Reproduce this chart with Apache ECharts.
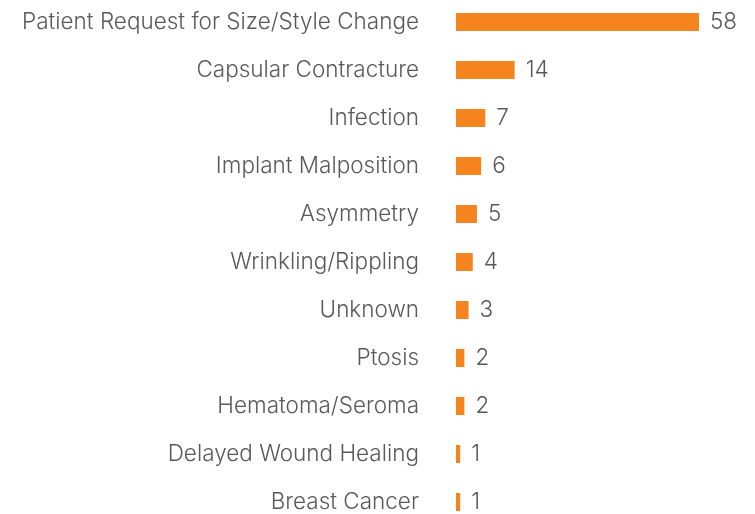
<!DOCTYPE html>
<html>
<head>
<meta charset="utf-8">
<script src="https://cdn.jsdelivr.net/npm/echarts@6/dist/echarts.min.js"></script>
<style>
    html, body { margin: 0; padding: 0; background: #fff; }
    #chart { width: 755px; height: 514px; }
</style>
</head>
<body>
<div id="chart"></div>
<script>
    // revision reasons, top to bottom
    const reasons = [
        'Patient Request for Size/Style Change',
        'Capsular Contracture',
        'Infection',
        'Implant Malposition',
        'Asymmetry',
        'Wrinkling/Rippling',
        'Unknown',
        'Ptosis',
        'Hematoma/Seroma',
        'Delayed Wound Healing',
        'Breast Cancer'
    ];
    const counts = [58, 14, 7, 6, 5, 4, 3, 2, 2, 1, 1];

    const chart = echarts.init(document.getElementById('chart'));
    const textColor = '#595959';
    const font = 'Inter';

    const option = {
        animation: false,
        grid: {
            left: 456, right: 56, top: -2, bottom: -12,
            containLabel: false,
            outerBoundsMode: 'none'
        },
        xAxis: {
            type: 'value',
            min: 0,
            max: 58,
            show: false
        },
        yAxis: {
            type: 'category',
            data: reasons,
            inverse: true,
            axisLine: { show: false },
            axisTick: { show: false },
            axisLabel: {
                margin: 37,
                color: textColor,
                fontSize: 22.5,
                fontWeight: 300,
                fontFamily: font,
                padding: [4, 0, 0, 0]
            }
        },
        series: [{
            type: 'bar',
            data: counts,
            barWidth: 18,
            itemStyle: { color: '#F5841F' },
            label: {
                show: true,
                position: 'right',
                distance: 11,
                color: textColor,
                fontSize: 22.5,
                fontWeight: 300,
                fontFamily: font,
                padding: [4, 0, 0, 0]
            }
        }]
    };
    chart.setOption(option);
</script>
</body>
</html>
